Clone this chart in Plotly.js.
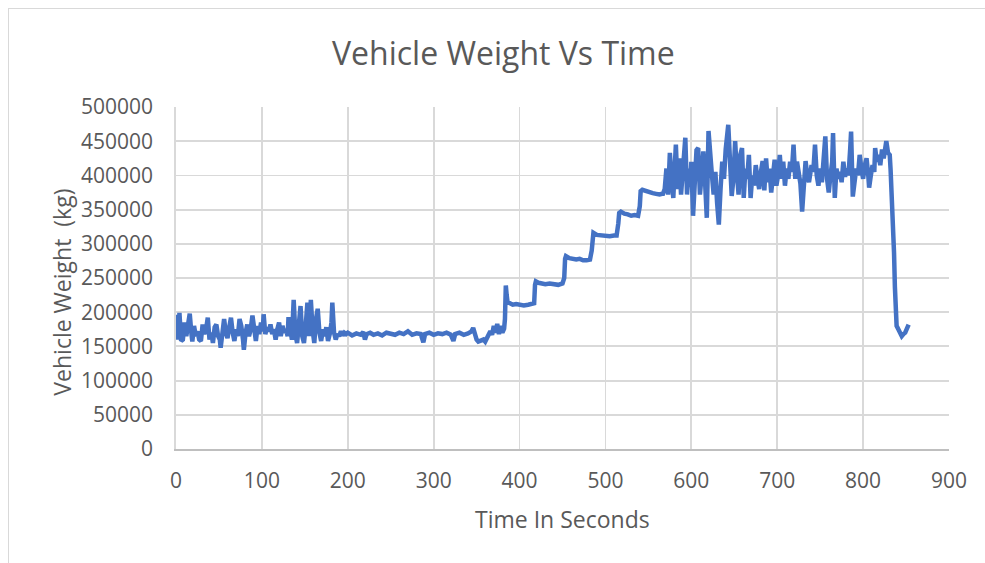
<!DOCTYPE html>
<html>
<head>
<meta charset="utf-8">
<script src="https://cdn.plot.ly/plotly-3.0.1.min.js"></script>
<style>
  html, body { margin: 0; padding: 0; background: #ffffff; }
  #wrap { position: relative; width: 985px; height: 563px; }
  #chart { width: 985px; height: 563px; }
  #frame {
    position: absolute; left: 8px; top: 8px; right: 0; bottom: 0;
    border-left: 1px solid #d9d9d9; border-top: 1px solid #d9d9d9;
    pointer-events: none;
  }
</style>
</head>
<body>
<div id="wrap">
  <div id="chart"></div>
  <div id="frame"></div>
</div>
<script>
// Elapsed time (s) and measured vehicle weight (thousands of kg)
const timeSec = [
  0,1,2,3,4,5,6,8,10,12,14,16,18,19,21,23,25,27,29,31,33,35,37,39,41,43,45,47,49,51,52,54,56,58,60,
  62,64,66,68,70,72,74,76,78,79,81,83,85,87,89,91,93,95,97,99,101,102,104,106,108,110,112,114,116,118,
  120,122,124,126,128,130,131,133,135,137,139,141,143,145,147,149,151,153,155,157,159,161,163,165,167,
  169,171,173,175,177,179,181,182,184,186,188,190,192,194,196,
  198,200,205,210,215,218,220,222,226,230,235,240,245,250,255,260,265,270,275,280,285,288,290,295,300,
  305,310,315,320,323,325,330,335,340,344,346,348,350,352,355,358,360,362,364,366,368,370,372,374,376,
  378,380,382,383,384,385,386,388,392,396,400,405,410,415,417,418,419,422,426,430,435,440,445,450,452,
  453,454,458,462,466,470,474,478,482,484,485,486,490,495,500,505,510,513,515,516,518,522,526,530,534,
  538,540,541,543,547,551,555,559,563,566,
  567,569,571,573,575,577,579,581,582,584,586,588,590,593,595,597,599,600,602,604,606,608,610,612,614,
  616,618,620,622,624,626,628,630,632,634,636,638,640,643,645,647,649,651,653,655,657,659,661,663,665,
  667,669,671,673,675,677,679,681,683,685,687,689,691,693,695,697,699,701,703,705,707,709,711,713,715,
  717,719,721,723,725,727,729,731,733,735,737,740,742,744,746,748,750,752,754,756,758,760,762,764,765,
  767,769,771,773,775,777,779,781,783,785,786,788,790,792,794,796,798,800,802,804,806,807,809,811,813,
  814,816,818,820,822,824,826,827,829,831,832,833,834,835,836,837,838,839,841,843,845,847,849,851,853
];
const weightThousandKg = [
  185,160,196,165,199,172,158,160,185,165,178,198,168,157,180,165,172,160,158,182,168,175,192,160,170,155,178,182,165,160,148,175,190,170,162,
  178,192,170,158,175,165,190,180,160,145,170,182,165,175,195,170,158,180,168,185,172,197,168,178,172,182,168,175,160,175,
  185,165,180,170,175,165,193,175,160,218,168,155,180,209,165,155,180,214,165,218,175,155,190,205,170,
  158,175,165,178,158,168,185,214,170,160,168,165,172,166,170,
  168,170,166,169,167,171,160,168,170,167,169,166,170,168,167,170,168,172,167,169,168,156,168,170,167,
  169,168,170,167,158,168,170,167,169,172,177,168,160,157,158,160,157,162,165,172,167,180,170,183,168,
  180,170,176,190,239,225,215,213,211,212,211,210,211,212,213,240,245,243,242,241,242,241,240,242,250,
  278,282,279,278,277,278,276,276,277,290,310,316,313,312,312,311,312,312,330,345,347,344,343,341,342,
  341,355,377,379,377,375,374,373,372,373,
  373,380,410,372,433,395,367,420,445,380,425,372,415,455,372,410,385,420,341,395,437,440,372,400,435,
  390,338,465,420,400,372,405,360,328,380,420,395,438,474,420,370,395,450,405,372,430,440,367,410,395,
  430,367,400,385,415,395,380,405,421,378,425,390,410,375,405,423,385,400,430,395,420,385,410,395,420,
  405,445,395,420,400,388,347,395,421,400,390,415,405,445,400,385,410,390,425,457,395,375,400,420,462,
  367,410,395,405,390,420,398,410,400,440,464,369,395,410,400,430,410,395,415,425,400,382,400,415,405,
  440,420,430,415,438,425,440,450,433,430,408,385,360,320,287,237,189,180,175,170,165,168,170,176,182
];

// Axis ticks
const xTicks = [0,100,200,300,400,500,600,700,800,900];
const yTicks = [0,50000,100000,150000,200000,250000,300000,350000,400000,450000,500000];

const weightKg = weightThousandKg.map(v => v * 1000);

const textGrey = '#595959';
const gridGrey = '#d9d9d9';
const font = "'Open Sans', 'Liberation Sans', sans-serif";

const trace = {
  x: timeSec,
  y: weightKg,
  type: 'scatter',
  mode: 'lines',
  line: { color: '#4472C4', width: 4.5 },
  hoverinfo: 'x+y'
};

const layout = {
  width: 985,
  height: 563,
  margin: { l: 176, r: 36, t: 107, b: 113.5, pad: 0 },
  paper_bgcolor: '#ffffff',
  plot_bgcolor: '#ffffff',
  showlegend: false,
  title: {
    text: 'Vehicle Weight Vs Time',
    font: { family: font, size: 32, color: textGrey },
    x: 0.511, xanchor: 'center',
    y: 0.905, yanchor: 'middle'
  },
  xaxis: {
    range: [0, 900],
    tickmode: 'array',
    tickvals: xTicks,
    ticks: '',
    showgrid: true,
    gridcolor: gridGrey,
    gridwidth: 1.8,
    zeroline: false,
    showline: true,
    linecolor: '#bfbfbf',
    linewidth: 1.8,
    tickfont: { family: font, size: 21, color: textGrey },
    ticklabelstandoff: 12
  },
  yaxis: {
    range: [0, 500000],
    tickmode: 'array',
    tickvals: yTicks,
    tickformat: 'd',
    ticks: '',
    showgrid: true,
    gridcolor: gridGrey,
    gridwidth: 1.8,
    zeroline: false,
    showline: true,
    linecolor: gridGrey,
    linewidth: 1.8,
    tickfont: { family: font, size: 21, color: textGrey },
    ticklabelstandoff: 17
  },
  annotations: [
    {
      text: 'Time In Seconds',
      xref: 'paper', yref: 'paper',
      x: 0.5006, y: -0.206, xanchor: 'center', yanchor: 'middle',
      showarrow: false,
      font: { family: font, size: 23, color: textGrey }
    },
    {
      text: 'Vehicle Weight\u00a0 (kg)',
      xref: 'paper', yref: 'paper',
      x: -0.1475, y: 0.46, xanchor: 'center', yanchor: 'middle',
      textangle: -90,
      showarrow: false,
      font: { family: font, size: 23, color: textGrey }
    }
  ]
};

Plotly.newPlot('chart', [trace], layout, { displayModeBar: false, staticPlot: true });
</script>
</body>
</html>
